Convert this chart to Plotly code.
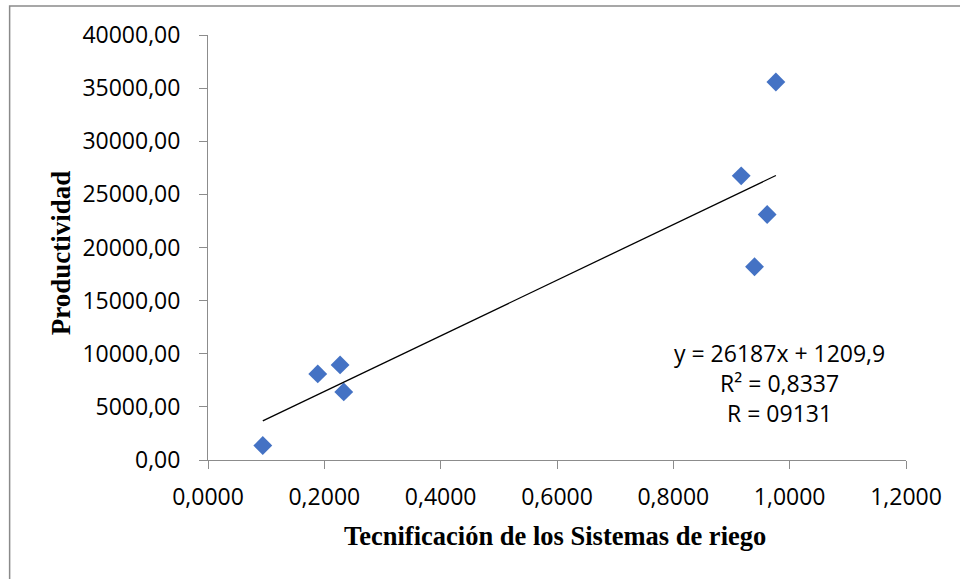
import plotly.graph_objects as go

# Irrigation technification index vs. productivity
tecnificacion = [0.0942, 0.1887, 0.2271, 0.2334, 0.9167, 0.9396, 0.9613, 0.9763]
productividad = [1363, 8103, 8949, 6411, 26744, 18190, 23106, 35580]

# Linear trend reported for the series
pendiente = 26187
intercepto = 1209.9
ecuacion = ["y = 26187x + 1209,9", "R² = 0,8337", "R = 09131"]

x_ticks = [0.0, 0.2, 0.4, 0.6, 0.8, 1.0, 1.2]
y_ticks = [0, 5000, 10000, 15000, 20000, 25000, 30000, 35000, 40000]

x_min, x_max = min(tecnificacion), max(tecnificacion)
trend_x = [x_min, x_max]
trend_y = [pendiente * v + intercepto for v in trend_x]

AXIS_GRAY = "#8c8c8c"
SANS = "Open Sans"
SERIF = "Liberation Serif"

fig = go.Figure()

fig.add_trace(go.Scatter(
    x=tecnificacion, y=productividad, mode="markers",
    marker=dict(symbol="diamond", size=14.5, color="#4472C4",
                line=dict(width=0)),
    cliponaxis=False, showlegend=False,
))

fig.add_trace(go.Scatter(
    x=trend_x, y=trend_y, mode="lines",
    line=dict(color="black", width=1.3),
    showlegend=False,
))

fig.update_layout(
    width=960, height=579,
    margin=dict(l=207.5, r=54, t=35, b=118.5),
    paper_bgcolor="white", plot_bgcolor="white",
    separators=",.",
    font=dict(family=SANS, size=23, color="black"),
    xaxis=dict(
        range=[0, 1.2], tickmode="array", tickvals=x_ticks,
        tickformat=".4f", showgrid=False, zeroline=False,
        showline=True, linecolor=AXIS_GRAY, linewidth=1,
        ticks="outside", ticklen=8, tickcolor=AXIS_GRAY,
        ticklabelstandoff=8,
        tickfont=dict(family=SANS, size=23, color="black"),
    ),
    yaxis=dict(
        range=[0, 40000], tickmode="array", tickvals=y_ticks,
        tickformat=".2f", showgrid=False, zeroline=False,
        showline=True, linecolor=AXIS_GRAY, linewidth=1,
        ticks="outside", ticklen=8, tickcolor=AXIS_GRAY,
        ticklabelstandoff=14,
        tickfont=dict(family=SANS, size=23, color="black"),
    ),
    shapes=[dict(
        type="rect", xref="paper", yref="paper",
        x0=-0.2842, x1=1.2, y0=-0.35, y1=1.0682,
        line=dict(color="#8a8a8a", width=1.5), fillcolor="rgba(0,0,0,0)",
        layer="below",
    )],
    annotations=[
        dict(
            x=0.9818, y=7285, xref="x", yref="y",
            text="<br>".join(ecuacion), showarrow=False,
            xanchor="center", yanchor="middle", align="center",
            font=dict(family=SANS, size=23, color="black"),
        ),
        dict(
            x=0.4975, y=-0.1798, xref="paper", yref="paper",
            text="<b>Tecnificación de los Sistemas de riego</b>",
            showarrow=False, xanchor="center", yanchor="middle",
            font=dict(family=SERIF, size=26.5, color="black"),
        ),
        dict(
            x=-0.2112, y=0.4877, xref="paper", yref="paper",
            text="<b>Productividad</b>", textangle=-90,
            showarrow=False, xanchor="center", yanchor="middle",
            font=dict(family=SERIF, size=27, color="black"),
        ),
    ],
)

fig.write_html("out.html")
